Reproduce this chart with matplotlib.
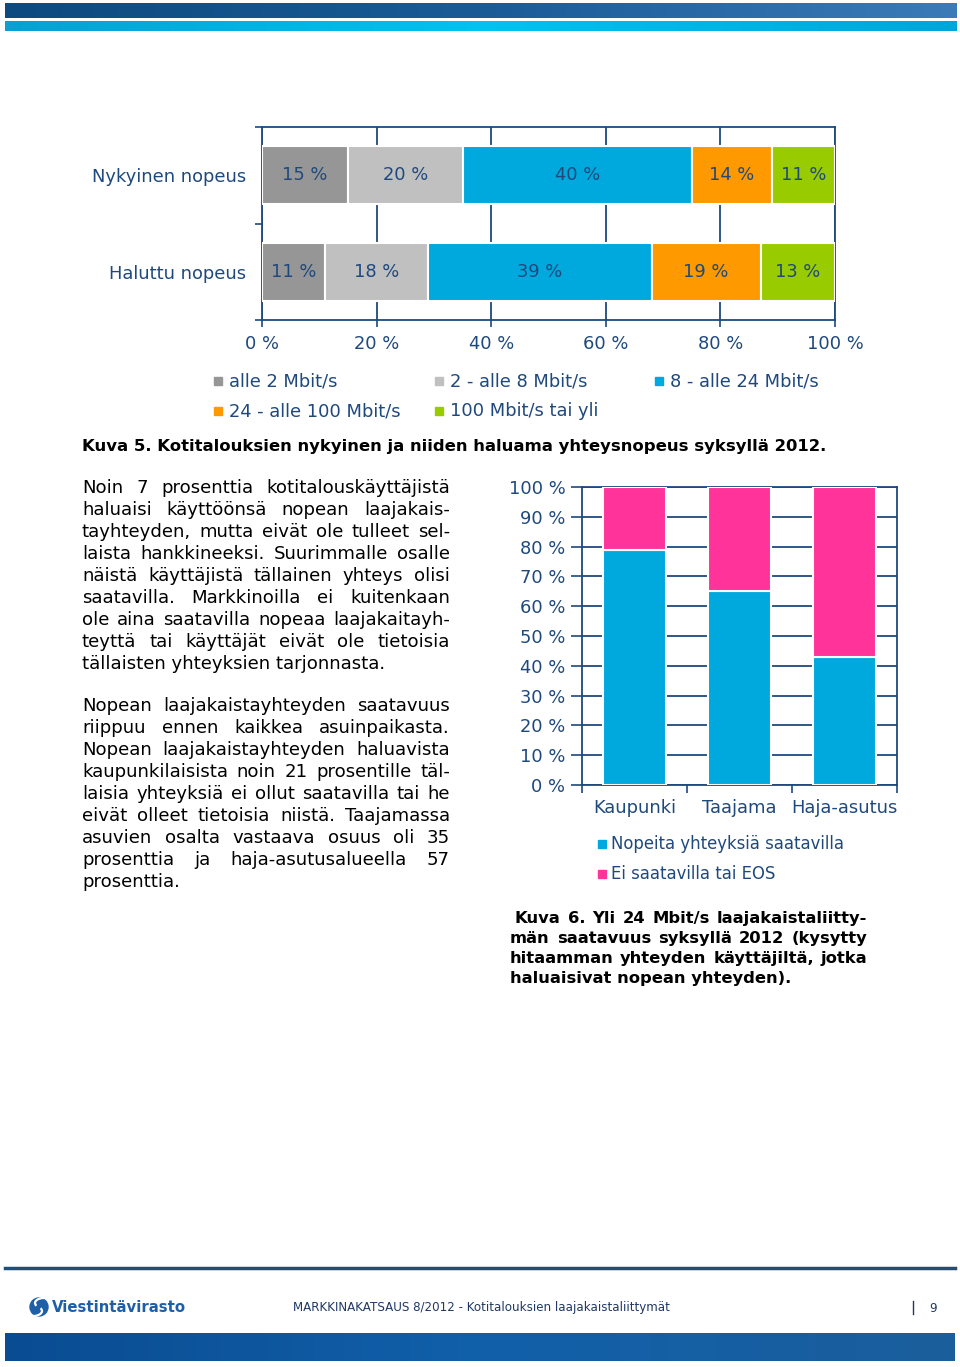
import numpy as np
import matplotlib
matplotlib.use('Agg')
import matplotlib.pyplot as plt
from matplotlib.colors import LinearSegmentedColormap
from matplotlib.patches import Rectangle, Circle, Arc

W, H = 960, 1367
plt.rcParams['font.family'] = ['DejaVu Sans']

# --- data ---
speed_rows = ['Nykyinen nopeus', 'Haluttu nopeus']
speed_classes = ['alle 2 Mbit/s', '2 - alle 8 Mbit/s', '8 - alle 24 Mbit/s',
                 '24 - alle 100 Mbit/s', '100 Mbit/s tai yli']
nykyinen = [15, 20, 40, 14, 11]
haluttu = [11, 18, 39, 19, 13]
speed_ticks = [0, 20, 40, 60, 80, 100]

areas = ['Kaupunki', 'Taajama', 'Haja-asutus']
area_series = ['Nopeita yhteyksiä saatavilla', 'Ei saatavilla tai EOS']
saatavilla = [79, 65, 43]
ei_saatavilla = [21, 35, 57]
area_ticks = [0, 10, 20, 30, 40, 50, 60, 70, 80, 90, 100]

speed_colors = ['#969696', '#c0c0c0', '#00a9dd', '#ff9900', '#99cc00']
area_colors = ['#00a9dd', '#ff3399']
NAVY = '#1f497d'

para1 = ['Noin 7 prosenttia kotitalouskäyttäjistä',
         'haluaisi käyttöönsä nopean laajakais-',
         'tayhteyden, mutta eivät ole tulleet sel-',
         'laista hankkineeksi. Suurimmalle osalle',
         'näistä käyttäjistä tällainen yhteys olisi',
         'saatavilla. Markkinoilla ei kuitenkaan',
         'ole aina saatavilla nopeaa laajakaitayh-',
         'teyttä tai käyttäjät eivät ole tietoisia',
         'tällaisten yhteyksien tarjonnasta.']
para2 = ['Nopean laajakaistayhteyden saatavuus',
         'riippuu ennen kaikkea asuinpaikasta.',
         'Nopean laajakaistayhteyden haluavista',
         'kaupunkilaisista noin 21 prosentille täl-',
         'laisia yhteyksiä ei ollut saatavilla tai he',
         'eivät olleet tietoisia niistä. Taajamassa',
         'asuvien osalta vastaava osuus oli 35',
         'prosenttia ja haja-asutusalueella 57',
         'prosenttia.']
caption5 = 'Kuva 5. Kotitalouksien nykyinen ja niiden haluama yhteysnopeus syksyllä 2012.'
caption6 = ['Kuva 6. Yli 24 Mbit/s laajakaistaliitty-',
            'män saatavuus syksyllä 2012 (kysytty',
            'hitaamman yhteyden käyttäjiltä, jotka',
            'haluaisivat nopean yhteyden).']
footer = 'MARKKINAKATSAUS 8/2012 - Kotitalouksien laajakaistaliittymät'

fig = plt.figure(figsize=(W / 100, H / 100), dpi=100)
fig.patch.set_facecolor('white')
renderer = fig.canvas.get_renderer()

# page layer in pixel coordinates
page = fig.add_axes([0, 0, 1, 1])
page.axis('off')


def hgrad(x0, x1, y0, y1, cols):
    cmap = LinearSegmentedColormap.from_list('g', cols)
    page.imshow(np.linspace(0, 1, 256)[None, :], extent=(x0, x1, y1, y0),
                cmap=cmap, aspect='auto', interpolation='bilinear')


hgrad(5, 957, 3, 18, ['#0d4a7f', '#1a5b96', '#3b7bb8'])
hgrad(5, 957, 21, 31, ['#0a9fd5', '#00c2f3', '#00a5de'])
page.plot([5, 955], [1268, 1268], color='#1f4e79', lw=2.5)
hgrad(5, 955, 1333, 1361, ['#0a4c92', '#1160aa', '#1b5e9c'])
page.set_xlim(0, W)
page.set_ylim(H, 0)


def fit_size(s, target, weight='normal', family=None):
    t = page.text(0, 0, s, fontsize=10, weight=weight, family=family)
    w = t.get_window_extent(renderer).width
    t.remove()
    return 10 * target / w


def justify(lines, x0, x1, y0, dy, size, weight='normal', indent=0):
    for k, line in enumerate(lines):
        y = y0 + k * dy
        xs = x0 + (indent if k == 0 else 0)
        words = line.split()
        if k == len(lines) - 1 or len(words) == 1:
            page.text(xs, y, line, fontsize=size, weight=weight, va='baseline', color='black')
            continue
        texts = [page.text(0, y, w, fontsize=size, weight=weight, va='baseline', color='black')
                 for w in words]
        widths = [t.get_window_extent(renderer).width for t in texts]
        gap = (x1 - xs - sum(widths)) / (len(words) - 1)
        x = xs
        for t, w in zip(texts, widths):
            t.set_x(x)
            x += w + gap


def px_axes(l, t, r, b):
    return fig.add_axes([l / W, 1 - b / H, (r - l) / W, (b - t) / H])


chart_fs = fit_size('Nykyinen nopeus', 153)

# --- chart 1: stacked horizontal bars ---
ax1 = px_axes(262, 127, 835, 320)
ax1.set_facecolor('none')
data1 = np.array([nykyinen, haluttu])
left = np.zeros(len(speed_rows))
for i, (name, col) in enumerate(zip(speed_classes, speed_colors)):
    bars = ax1.barh(range(len(speed_rows)), data1[:, i], left=left, height=0.6,
                    color=col, edgecolor='white', linewidth=1.5, zorder=3)
    for b, v in zip(bars, data1[:, i]):
        ax1.text(b.get_x() + b.get_width() / 2, b.get_y() + b.get_height() / 2,
                 f'{v} %', ha='center', va='center', color=NAVY, fontsize=chart_fs, zorder=4)
    left += data1[:, i]
ax1.set_xlim(0, 100)
ax1.set_ylim(1.5, -0.5)
ax1.set_xticks(speed_ticks)
ax1.set_xticklabels([f'{v} %' for v in speed_ticks])
ax1.set_yticks(range(len(speed_rows)))
ax1.set_yticklabels(speed_rows)
ax1.set_yticks([-0.5, 0.5, 1.5], minor=True)
ax1.tick_params(axis='y', which='major', length=0, pad=11.5, labelsize=chart_fs, labelcolor=NAVY)
ax1.tick_params(axis='y', which='minor', length=5, width=1.2, color=NAVY)
ax1.tick_params(axis='x', length=5, width=1.2, color=NAVY, pad=6, labelsize=chart_fs, labelcolor=NAVY)
ax1.grid(axis='x', color=NAVY, lw=1.3)
ax1.set_axisbelow(True)
for sp in ax1.spines.values():
    sp.set_color(NAVY)
    sp.set_linewidth(1.3)

# legend for chart 1
leg_pos = [(218, 381), (439, 381), (659, 381), (218, 411), (439, 411)]
for (x, y), name, col in zip(leg_pos, speed_classes, speed_colors):
    page.add_patch(Rectangle((x - 4, y - 4), 8, 8, color=col))
    page.text(x + 11, y, name, va='center', ha='left', fontsize=chart_fs, color=NAVY)

cap_fs = fit_size(caption5, 744, weight='bold')
page.text(82, 447, caption5, fontsize=cap_fs, weight='bold', va='center', ha='left')

# --- body text ---
body_fs = fit_size(para1[-1], 304)
justify(para1, 82, 450, 493, 22, body_fs)
justify(para2, 82, 450, 711, 22, body_fs)

# --- chart 2: stacked columns ---
ax2 = px_axes(582, 487, 897, 785)
ax2.set_facecolor('none')
x = np.arange(len(areas))
ax2.bar(x, saatavilla, width=0.6, color=area_colors[0], edgecolor='white', linewidth=1.5,
        zorder=3, label=area_series[0])
ax2.bar(x, ei_saatavilla, width=0.6, bottom=saatavilla, color=area_colors[1],
        edgecolor='white', linewidth=1.5, zorder=3, label=area_series[1])
ax2.set_xlim(-0.5, 2.5)
ax2.set_ylim(0, 100)
ax2.set_yticks(area_ticks)
ax2.set_yticklabels([f'{v} %' for v in area_ticks])
ax2.set_xticks(x)
ax2.set_xticklabels(areas)
ax2.set_xticks([-0.5, 0.5, 1.5, 2.5], minor=True)
ax2.tick_params(axis='x', which='major', length=0, pad=10, labelsize=chart_fs, labelcolor=NAVY)
ax2.tick_params(axis='x', which='minor', length=6, width=1.2, color=NAVY)
ax2.tick_params(axis='y', length=8, width=1.2, color=NAVY, pad=4, labelsize=chart_fs, labelcolor=NAVY)
ax2.grid(axis='y', color=NAVY, lw=1.3)
ax2.set_axisbelow(True)
for sp in ax2.spines.values():
    sp.set_color(NAVY)
    sp.set_linewidth(1.3)

leg2_fs = fit_size(area_series[1], 166)
for (yy, name, col) in zip([844, 874], area_series, area_colors):
    page.add_patch(Rectangle((598, yy - 4), 8, 8, color=col))
    page.text(611, yy, name, va='center', ha='left', fontsize=leg2_fs, color=NAVY)

cap6_fs = fit_size(caption6[-1], 282, weight='bold')
justify(caption6, 510, 867, 923, 20, cap6_fs, weight='bold', indent=5)

# --- footer ---
page.add_patch(Circle((39, 1307), 9, color='#1e5fa8'))
page.add_patch(Arc((33, 1311), 18, 10, theta1=-20, theta2=120, color='white', lw=1.6))
page.add_patch(Arc((44, 1303), 18, 10, theta1=160, theta2=300, color='white', lw=1.6))
logo_fs = fit_size('Viestintävirasto', 133, weight='bold')
page.text(52, 1307, 'Viestintävirasto', fontsize=logo_fs, weight='bold', color='#1e5fa8',
          va='center', ha='left')
foot_fs = fit_size(footer, 374, family='DejaVu Sans')
page.text(293, 1308, footer, fontsize=foot_fs, color='#1f3864', va='center', ha='left')
page.plot([913, 913], [1301, 1314], color='#1f3864', lw=1)
page.text(933, 1308, '9', fontsize=foot_fs, color='#1f3864', va='center', ha='center')

fig.savefig('out.png', dpi=100)
